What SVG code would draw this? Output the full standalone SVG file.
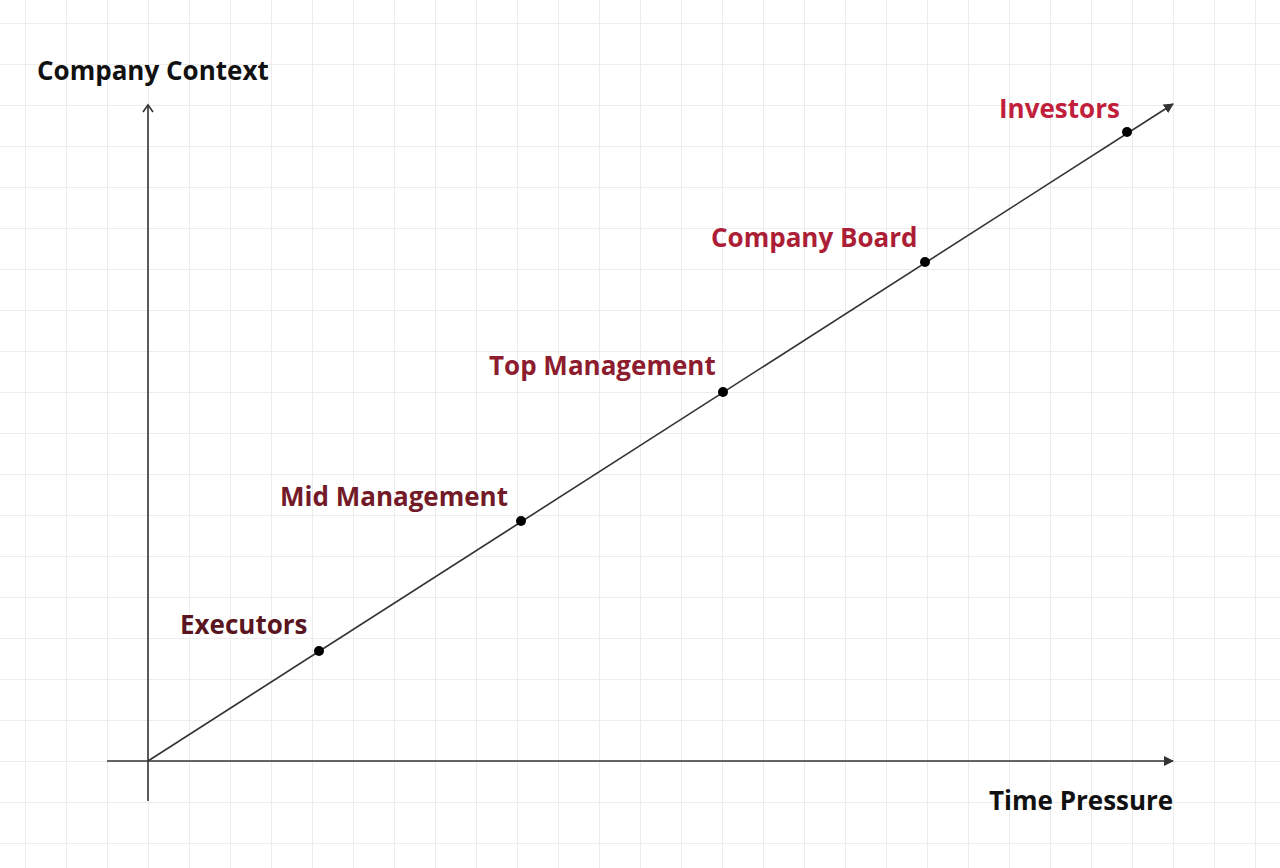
<svg xmlns="http://www.w3.org/2000/svg" width="1280" height="868" viewBox="0 0 1280 868">
<defs>
<pattern id="grid" x="25" y="23" width="41" height="41" patternUnits="userSpaceOnUse">
<path d="M0 0H41M0 0V41" fill="none" stroke="#ececec" stroke-width="2"/>
</pattern>
<marker id="tri" viewBox="0 0 10 10" refX="9" refY="5" markerWidth="10" markerHeight="10" markerUnits="userSpaceOnUse" orient="auto">
<path d="M0 0L10 5L0 10Z" fill="#333"/>
</marker>
<marker id="chev" viewBox="0 0 12 12" refX="10" refY="6" markerWidth="12" markerHeight="12" markerUnits="userSpaceOnUse" orient="auto">
<path d="M3 1L10 6L3 11" fill="none" stroke="#333" stroke-width="1.6"/>
</marker>
<style>
.lbl{font-family:"Open Sans","Noto Sans","Liberation Sans",sans-serif;font-weight:700;font-size:26px}
.ax{stroke:#333;stroke-width:1.6;fill:none}
.pt{fill:#000}
</style>
</defs>
<rect width="1280" height="868" fill="#fff"/>
<rect width="1280" height="868" fill="url(#grid)"/>
<g id="connectors">
<line class="ax" x1="148" y1="801" x2="148" y2="105" marker-end="url(#chev)"/>
<line class="ax" x1="107" y1="761" x2="1173" y2="761" marker-end="url(#tri)"/>
<line class="ax" x1="148" y1="761" x2="1173" y2="104" marker-end="url(#tri)"/>
</g>
<g id="axis-y"><text class="lbl" x="37" y="80" fill="#111">Company Context</text></g>
<g id="axis-x"><text class="lbl" x="989" y="810" fill="#111">Time Pressure</text></g>
<g id="executors"><circle class="pt" cx="319" cy="651" r="5"/><text class="lbl" x="180" y="634" fill="#5a1620">Executors</text></g>
<g id="mid-management"><circle class="pt" cx="521" cy="521" r="5"/><text class="lbl" x="280" y="506" fill="#731a28">Mid Management</text></g>
<g id="top-management"><circle class="pt" cx="723" cy="392" r="5"/><text class="lbl" x="489" y="375" fill="#8c1c2e">Top Management</text></g>
<g id="company-board"><circle class="pt" cx="925" cy="262" r="5"/><text class="lbl" x="711" y="247" fill="#ac1e36">Company Board</text></g>
<g id="investors"><circle class="pt" cx="1127" cy="132" r="5"/><text class="lbl" x="999" y="118" fill="#c11f3c">Investors</text></g>
</svg>
